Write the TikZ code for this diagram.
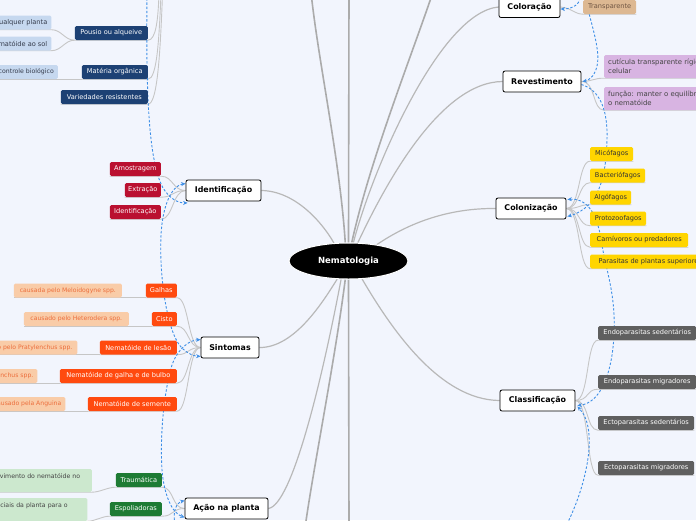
\documentclass[tikz,border=0pt]{standalone}
\usepackage{fontspec}
\setmainfont{DejaVu Sans}
\usetikzlibrary{arrows.meta,shapes.geometric}
\definecolor{bgc}{HTML}{F2F5FD}
\definecolor{cLine}{HTML}{C6C6C6}
\definecolor{cRootLn}{HTML}{B8B8B8}
\definecolor{cRootTk}{HTML}{ABABAB}
\definecolor{cDash}{HTML}{3F8FE6}
\definecolor{cDkBlue}{HTML}{1D4174}
\definecolor{cLtBlue}{HTML}{C6D8EF}
\definecolor{cLbTxt}{HTML}{333A4A}
\definecolor{cRed}{HTML}{BA1030}
\definecolor{cOrange}{HTML}{FF4A0F}
\definecolor{cLtOr}{HTML}{F9CCA8}
\definecolor{cLoTxt}{HTML}{EC6E3C}
\definecolor{cGreen}{HTML}{1E7B34}
\definecolor{cLtGr}{HTML}{CCE8CE}
\definecolor{cLgTxt}{HTML}{444444}
\definecolor{cYellow}{HTML}{FFD500}
\definecolor{cYeTxt}{HTML}{333333}
\definecolor{cGray}{HTML}{5F5F5F}
\definecolor{cPurple}{HTML}{D8B4E2}
\definecolor{cPuTxt}{HTML}{444444}
\definecolor{cTan}{HTML}{DDB892}
\definecolor{cTanTxt}{HTML}{6E5442}
\pgfdeclarelayer{back}
\pgfdeclarelayer{lines}
\pgfsetlayers{back,lines,main}
\begin{document}
\begin{tikzpicture}[x=1pt,y=-1pt,
  mainnode/.style={draw=black, line width=0.8pt, fill=white, rounded corners=2pt, minimum height=21pt, inner sep=0pt, font=\fontsize{7.9}{9}\selectfont\bfseries},
  rootnode/.style={ellipse, fill=black, draw=white, line width=1pt, minimum width=119pt, minimum height=36pt, inner sep=0pt, text=white, font=\fontsize{8.5}{10}\selectfont\bfseries},
  lvl/.style={rounded corners=1.5pt, minimum height=14pt, inner xsep=2.5pt, inner ysep=0pt, font=\fontsize{6.6}{8}\selectfont},
  lvlL/.style={lvl, anchor=east},
  lvlR/.style={lvl, anchor=west},
  sub/.style={rounded corners=1.5pt, minimum height=14pt, inner xsep=4pt, inner ysep=0pt, font=\fontsize{6.2}{8}\selectfont},
  subL/.style={sub, anchor=east},
  twoline/.style={rounded corners=1.5pt, minimum height=23pt, inner xsep=4pt, inner ysep=2pt, align=left},
  bDk/.style={fill=cDkBlue, text=white},
  bLb/.style={fill=cLtBlue, text=cLbTxt},
  bRed/.style={fill=cRed, text=white},
  bOr/.style={fill=cOrange, text=white},
  bLo/.style={fill=cLtOr, text=cLoTxt},
  bGr/.style={fill=cGreen, text=white},
  bLg/.style={fill=cLtGr, text=cLgTxt},
  bYe/.style={fill=cYellow, text=cYeTxt},
  bGy/.style={fill=cGray, text=white},
  bPu/.style={fill=cPurple, text=cPuTxt},
  bTan/.style={fill=cTan, text=cTanTxt},
  conn/.style={draw=cLine, line width=0.9pt},
  rootln/.style={draw=cRootLn, line width=1.2pt},
  roottk/.style={draw=cRootTk, line width=1.6pt},
  rel/.style={draw=cDash, line width=0.9pt, dash pattern=on 2.4pt off 1.8pt},
  relto/.style={rel, -{Stealth[length=4.5pt,width=4pt]}},
  relboth/.style={rel, {Stealth[length=4.5pt,width=4pt]}-{Stealth[length=4.5pt,width=4pt]}}
]
\begin{pgfonlayer}{back}
\fill[bgc] (0,0) rectangle (696,520);
\end{pgfonlayer}
\useasboundingbox (0,0) rectangle (696,520);

% root and main nodes
\node[rootnode] (root) at (348.5,261) {Nematologia};
\node[mainnode, minimum width=61pt] (col) at (529.5,7) {Coloração};
\node[mainnode, minimum width=78pt] (rev) at (542,81.5) {Revestimento};
\node[mainnode, minimum width=70pt] (clz) at (531,208.5) {Colonização};
\node[mainnode, minimum width=75pt] (cls) at (537.5,400.5) {Classificação};
\node[mainnode, minimum width=75pt] (idf) at (223.5,190.5) {Identificação};
\node[mainnode, minimum width=58pt] (sin) at (230,347.5) {Sintomas};
\node[mainnode, minimum width=83pt] (acao) at (226.5,508.5) {Ação na planta};

% right side children
\node[lvlR, bTan, minimum width=53pt] (tra) at (583,7) {Transparente};
\node[twoline, bPu, anchor=west, font=\fontsize{6.9}{8.8}\selectfont] (pu1) at (604,66.5) {cutícula transparente rígida e\\celular};
\node[twoline, bPu, anchor=west, font=\fontsize{6.9}{8.8}\selectfont] (pu2) at (604,98.5) {função: manter o equilíbrio\\o nematóide};

\node[lvlR, bYe, minimum width=43pt] (mic) at (590,154) {Micófagos};
\node[lvlR, bYe, minimum width=55pt] (bac) at (590,175.5) {Bacteriófagos};
\node[lvlR, bYe, minimum width=41pt] (alg) at (590,197.5) {Algófagos};
\node[lvlR, bYe, minimum width=56pt] (pro) at (590,218.5) {Protozoofagos};
\node[lvlR, bYe, minimum width=98pt] (car) at (590,240) {Carnívoros ou predadores};
\node[lvlR, bYe, minimum width=120pt] (par) at (590,261.5) {Parasitas de plantas superiores};

\node[lvlR, bGy, minimum width=98pt] (ens) at (598,333) {Endoparasitas sedentários};
\node[lvlR, bGy, minimum width=98pt] (enm) at (598,382) {Endoparasitas migradores};
\node[lvlR, bGy, minimum width=96pt] (ecs) at (598,423) {Ectoparasitas sedentários};
\node[lvlR, bGy, minimum width=96pt] (ecm) at (598,468) {Ectoparasitas migradores};

% left upper branch (parent off picture)
\node[lvlL, bDk, minimum width=73pt] (pou) at (148,33) {Pousio ou alqueive};
\node[subL, bLb, font=\fontsize{6.6}{8}\selectfont] (q1) at (51.5,22.5) {qualquer planta};
\node[subL, bLb, font=\fontsize{6.6}{8}\selectfont] (q2) at (51.5,43.5) {nematóide ao sol};
\node[lvlL, bDk, minimum width=66pt] (mat) at (148,72) {Matéria orgânica};
\node[subL, bLb] (cb) at (58,72) {controle biológico};
\node[lvlL, bDk, minimum width=87pt] (var) at (148,97) {Variedades resistentes};

% Identificação children
\node[lvlL, bRed, minimum width=51pt] (amo) at (161,169) {Amostragem};
\node[lvlL, bRed, minimum width=36pt] (ext) at (161,190) {Extração};
\node[lvlL, bRed, minimum width=51pt] (idc) at (161,212) {Identificação};

% Sintomas children
\node[lvlL, bOr, minimum width=31pt] (gal) at (177,290.5) {Galhas};
\node[lvlL, bOr, minimum width=25pt] (cis) at (177,319) {Cisto};
\node[lvlL, bOr, minimum width=77pt] (les) at (177,347.5) {Nematóide de lesão};
\node[lvlL, bOr, minimum width=117pt] (gbu) at (177,376) {Nematóide de galha e de bulbo};
\node[lvlL, bOr, minimum width=89pt] (sem) at (177,404) {Nematóide de semente};
\node[subL, bLo, minimum width=108pt, font=\fontsize{6.1}{8}\selectfont] (melo) at (122,290.5) {causada pelo Meloidogyne spp.};
\node[subL, bLo, minimum width=105pt, font=\fontsize{6.1}{8}\selectfont] (het) at (129,319) {causado pelo Heterodera spp.};
\node[subL, bLo, inner xsep=5pt, font=\fontsize{6.1}{8}\selectfont] (pra) at (77.5,347.5) {causado pelo Pratylenchus spp.};
\node[subL, bLo, inner xsep=4pt, font=\fontsize{6.1}{8}\selectfont] (dit) at (37.5,376) {causado pelo Ditylenchus spp.};
\node[subL, bLo, inner xsep=4pt, font=\fontsize{6.1}{8}\selectfont] (ang) at (65.5,404) {causado pela Anguina};

% Ação na planta children
\node[lvlL, bGr, minimum width=46pt] (trm) at (162,480) {Traumática};
\node[lvlL, bGr, minimum width=52pt] (esp) at (162,509) {Espoliadoras};
\node[twoline, bLg, anchor=east, text width=97.8pt, font=\fontsize{6.2}{8.5}\selectfont] (mov) at (92,480.5) {movimento do nematóide no\\\mbox{}};
\node[twoline, bLg, anchor=east, text width=101pt, font=\fontsize{6.2}{8.5}\selectfont] (ess) at (87.5,509.5) {essenciais da planta para o\\\mbox{}};

% free ends
\coordinate (t1) at (311,-8);
\coordinate (t2) at (349,-8);
\coordinate (t3) at (433,-8);
\coordinate (b1) at (305,528);
\coordinate (b2) at (349,528);
\coordinate (tp1) at (159,-6);
\coordinate (tp2) at (161,-6);
\coordinate (tp3) at (162.5,-6);
\coordinate (l1s) at (147,-6);
\coordinate (l4s) at (176,528);
\coordinate (r1s) at (577,-6);
\coordinate (r2s) at (584,-6);
\coordinate (r5s) at (565,528);

\begin{pgfonlayer}{lines}
% root connectors
\draw[rootln] (idf.east) .. controls (295,191) and (322,222) .. (root.129);
\draw[rootln] (sin.east) .. controls (295,348) and (324,300) .. (root.-122);
\draw[rootln] (acao.east) .. controls (292,505) and (322,380) .. (root.-112);
\draw[rootln] (col.west) .. controls (440,12) and (372,170) .. (root.75);
\draw[rootln] (rev.west) .. controls (440,82) and (385,185) .. (root.63);
\draw[rootln] (clz.west) .. controls (450,208) and (410,222) .. (root.30);
\draw[rootln] (cls.west) .. controls (440,400) and (392,330) .. (root.-53);
\draw[roottk] (root.100) .. controls (340,160) and (318,60) .. (t1);
\draw[roottk] (root.90) -- (t2);
\draw[roottk] (root.80) .. controls (370,160) and (410,60) .. (t3);
\draw[roottk] (root.-100) .. controls (335,360) and (313,470) .. (b1);
\draw[roottk] (root.-90) -- (b2);

% right side children
\draw[conn] (col.east) .. controls (572,8) and (574,14) .. (tra.south west) -- (tra.south east);
\draw[conn] (rev.east) .. controls (592,81.5) and (594,78) .. (pu1.south west) -- (pu1.south east);
\draw[conn] (rev.east) .. controls (596,81.5) and (592,110) .. (pu2.south west) -- (pu2.south east);
\foreach \c in {mic,bac,alg,pro,car,par}{
  \draw[conn] (clz.east) .. controls +(14,0) and +(-12,0) .. (\c.south west) -- (\c.south east);
}
\foreach \c in {ens,enm,ecs,ecm}{
  \draw[conn] (cls.east) .. controls +(14,0) and +(-12,0) .. (\c.south west) -- (\c.south east);
}

% left upper branch
\draw[conn] (pou.south west) -- (pou.south east) .. controls (156,40) and (158,20) .. (tp1);
\draw[conn] (mat.south west) -- (mat.south east) .. controls (157,79) and (159,40) .. (tp2);
\draw[conn] (var.south west) -- (var.south east) .. controls (157,104) and (160,60) .. (tp3);
\draw[conn] (pou.south west) .. controls +(-10,0) and +(10,0) .. (q1.south east) -- (q1.south west);
\draw[conn] (pou.south west) .. controls +(-10,0) and +(10,0) .. (q2.south east) -- (q2.south west);
\draw[conn] (mat.south west) -- (cb.south west);

% Identificação
\foreach \c in {amo,ext,idc}{
  \draw[conn] (idf.west) .. controls +(-13,0) and +(12,0) .. (\c.south east) -- (\c.south west);
}
% Sintomas
\foreach \c in {gal,cis,les,gbu,sem}{
  \draw[conn] (sin.west) .. controls +(-13,0) and +(12,0) .. (\c.south east) -- (\c.south west);
}
\draw[conn] (gal.south west) -- (melo.south west);
\draw[conn] (cis.south west) -- (het.south west);
\draw[conn] (les.south west) -- (pra.south west);
\draw[conn] (gbu.south west) -- (dit.south west);
\draw[conn] (sem.south west) -- (ang.south west);
% Ação na planta
\draw[conn] (acao.west) .. controls +(-13,0) and +(12,0) .. (trm.south east) -- (trm.south west) .. controls +(-8,0) and +(8,0) .. (mov.south east) -- (mov.south west);
\draw[conn] (acao.west) .. controls +(-13,0) and +(12,0) .. (esp.south east) -- (esp.south west) .. controls +(-8,0) and +(8,0) .. (ess.south east) -- (ess.south west);

% relationship chains (dashed)
\draw[relto] (l1s) .. controls (146,90) and (148,160) .. (163,188) .. controls (170,199) and (178,203) .. ([xshift=2pt,yshift=-1.5pt]idf.south west);
\draw[relboth] ([yshift=-4pt]idf.north west) .. controls (174,185) and (163,200) .. (161,235) .. controls (159,280) and (168,335) .. (182,348) .. controls (188,354) and (194,356) .. ([yshift=2pt]sin.south west);
\draw[relboth] ([yshift=-3pt]sin.north west) .. controls (190,340) and (178,348) .. (172,365) .. controls (163,395) and (160,440) .. (162,470) .. controls (164,495) and (172,513) .. ([yshift=2pt]acao.south west);
\draw[relto] (l4s) .. controls (172,515) and (175,503) .. ([yshift=-3pt]acao.north west);

\draw[relto] (r1s) .. controls (584,2) and (574,9) .. ([yshift=-2pt]col.east);
\draw[relto] (r2s) .. controls (590,20) and (601,50) .. (597,66) .. controls (595,75) and (590,80) .. ([xshift=1pt]rev.east);
\draw[relto] ([yshift=-3pt]rev.east) .. controls (600,90) and (608,110) .. (607,140) .. controls (606,175) and (600,207) .. ([xshift=1pt,yshift=-8pt]clz.east);
\draw[relboth] ([xshift=1pt,yshift=9pt]clz.east) .. controls (588,198) and (598,215) .. (602,245) .. controls (606,270) and (616,295) .. (614,335) .. controls (612,375) and (600,403) .. ([xshift=2pt,yshift=-5pt]cls.east);
\draw[relto] (r5s) .. controls (585,490) and (600,430) .. ([xshift=2pt,yshift=-6pt]cls.east);
\end{pgfonlayer}
\end{tikzpicture}
\end{document}
